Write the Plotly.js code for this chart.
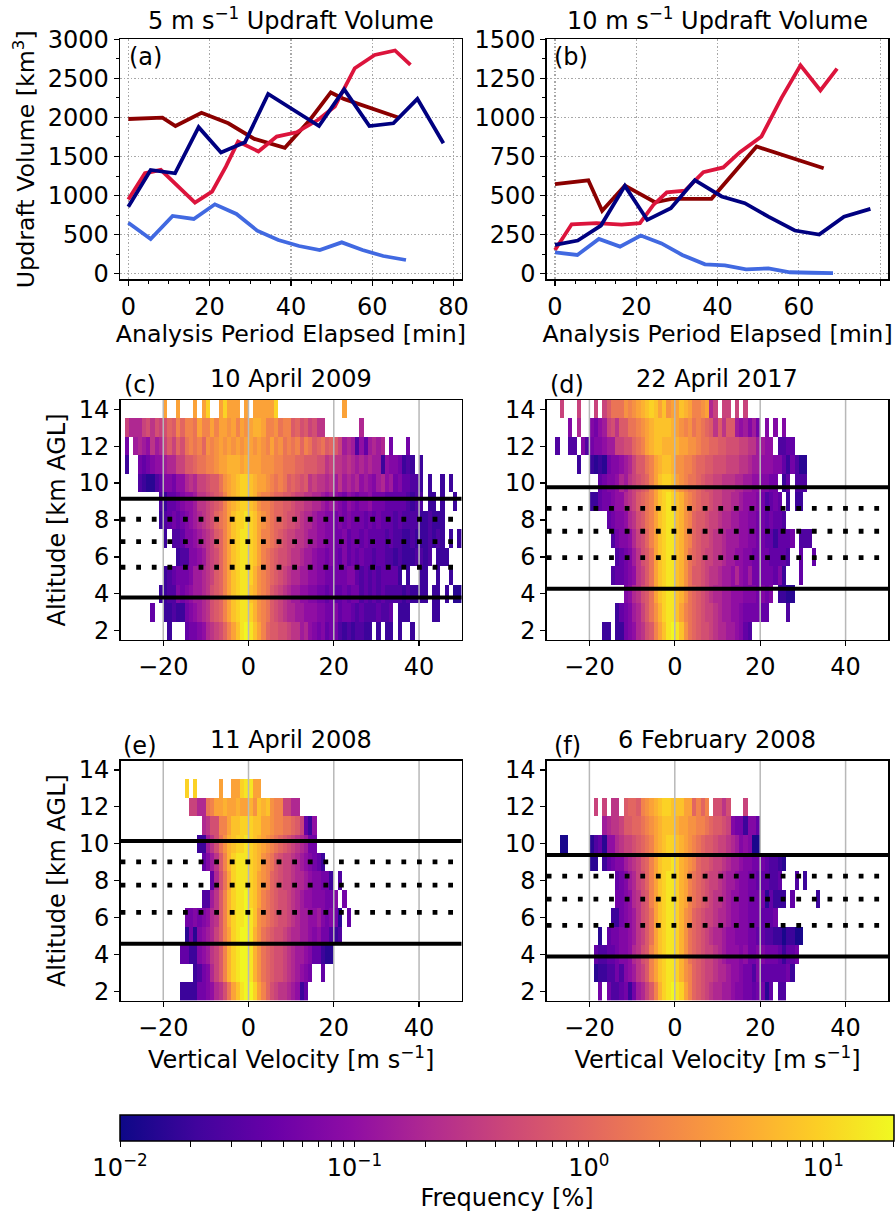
<!DOCTYPE html>
<html><head><meta charset="utf-8">
<script src="https://cdn.plot.ly/plotly-3.0.1.min.js"></script>
<style>html,body{margin:0;padding:0;background:#fff}#g{width:895px;height:1212px}</style></head>
<body><div id="g"></div>
<script>
// ---- Updraft volume time series, 5 m/s threshold (panel a)
const a_maroon_t=[0,8.4,11.6,18,24.6,31,38.5,44.7,49.8,53,66.4];
const a_maroon_v=[1980,1998,1890,2060,1925,1725,1610,1970,2320,2237,2000];
const a_crimson_t=[0,4.1,8,11.6,16.4,20.6,24,27,32,36.5,41.4,46.7,50.8,55.7,60.6,65.6,69.4];
const a_crimson_v=[950,1285,1330,1145,910,1050,1370,1690,1565,1755,1810,1970,2140,2630,2800,2857,2673];
const a_blue_t=[0,5.5,10.9,16.1,21.3,26.6,31.7,36.9,42,47.1,52.5,57.6,62.7,68.3];
const a_blue_v=[653,444,739,700,888,764,551,431,354,303,401,303,226,175];
const a_navy_t=[0,5.5,11.5,17.3,22.8,28.7,34.4,46.9,53.1,59.3,65.2,71.1,77.5];
const a_navy_v=[858,1328,1285,1875,1550,1683,2300,1890,2360,1890,1925,2237,1670];
// ---- Updraft volume time series, 10 m/s threshold (panel b)
const b_maroon_t=[0,8.2,11.6,17.2,24.6,28.7,38.5,49.6,66.1];
const b_maroon_v=[573,598,402,564,457,479,479,814,675];
const b_crimson_t=[0,4.1,10.2,16.4,20.9,24.2,27.5,32,36.5,41.4,45.5,50.8,55.7,60.4,65.3,69.4];
const b_crimson_v=[152,316,323,314,323,440,521,532,650,680,778,878,1124,1333,1173,1312];
const b_blue_t=[0,5.5,10.8,16,21.1,26.2,31.3,36.9,41.8,47,52.5,57.8,63.1,68.4];
const b_blue_v=[137,120,222,173,244,194,120,60,53,28,34,9,6,4];
const b_navy_t=[0,5.6,11.3,17.2,22.7,28.5,34.4,41,46.7,52.5,59,65,71.1,77.6];
const b_navy_v=[184,212,308,562,344,419,598,494,451,365,276,250,365,415];

const freqLevels={a:0.012,b:0.015,c:0.02,d:0.028,e:0.04,f:0.055,g:0.075,h:0.1,i:0.14,j:0.2,k:0.28,l:0.4,m:0.55,n:0.75,o:1,p:1.4,q:2,r:2.8,s:4,t:5.5,u:7.5,v:10,w:14,x:19};
const altitudes=[14,13,12,11,10,9,8,7,6,5,4,3,2];
const freqC=[
".......... s..s...s.s v..svsss.s .sssssv... .......... ..s....... .......... ..........",
".ljjjlmkml monqoqqpsq qsqssrsqsr sttsqqrpqq nomnlmkk.. ......j... .......... ..........",
".f.ijihkij lnlompqpqo rqrsrsrsrs srsrqsqrpq pqoqpnopno nlijidheij ij.f...f.. ..........",
".c..fefghh ijjllnnopp qqrsstttst sssrrrqqpp poonnnmmkl kkjkjijiji ichggfcdc. c.........",
"....dcbbde ggfhhjkjll mnnprstuvv utssrqpqpn onmnklkkjk ikijijhihg ijhifgeedd c.c..c.c..",
".........d ceefghhikk lmnoqstuvv utrqqpoonn mllkkjjihi hgfhgfgghf ffeeeeedcd d.cc.c..c.",
".........c defefghijk lmopqsuvvw vusrqpoonm mlkjjihhgg fgfgfffefe feeededddd ccdccc....",
".......... c.ddegghij klnoqsuvww vusqqponml lkkjiihhgg ffgeffefee eededdccdc ccdcdc.c.c",
".......... ...cddgghi klmoqsuvww vusqponmml kkjiihggfg fegefefeed eeddcdcccd dcd.ccc...",
".......... cdefffgiij klnoqsuvww vtrqponmlk jjiihhggff fffggedede deeeec.c.. cc..c..c..",
".........c cddgfghiij kmnoqsuvww utrqpnmlkj iihhggffef eefeffdede deddddcdcc cc.cc.c.bb",
".......e.. ccdccfghij kmnoqsuvww vtrqpnmlkj jiihhhggff geffededdd edde.ccc.. ...cc.....",
".......... .c...effgh jklmoqsuwx wusqonnmml kkijhgfgef fdcdcddcc. c.cc.c..c. .........."];
const freqD=[
"...l...l.. .l.lnppprq rstuvusurs sutsqqrsjl .ll.l.l... .......... .......... ..........",
".....g.j.. gfhilmknnp pqrstuuuut srqrpqponk nknnihigif .g.g.g.... .......... ..........",
"..d..dd.gd fgghiillmm opqstuuttt tssrrqppoo nnmmmllkki ihh.ddee.. .......... ..........",
".......c.. cbcbfgghij lnnpqstuut rrqqpoonnm mmlllkkjii hhhggecfdb b......... ..........",
".......... ..efgghjik lmnoqsuvvu srqpponmml lkkkjjiihh ggff.ce.dd d......... ..........",
".......... cceffghhjk lnopqsuvwv utrqponnml lkkjjihhhg fdefe.c.cc .......... ..........",
".......... ....efgghj kmnpqsuvww utrqonnmll kjjiihhggf fefeed.... .......... ..........",
".......... .....dfggh jlmoqsuvww utrqonmmlk kjiiihhggf feeceeef.d dd........ ..........",
".......... ......defg ikmnpsuvww utrponmllk kjiihhggff ffeeeed..e ..e....... ..........",
".......... .....deefg hklnpsuvww utrpnnmlkk jiihjhgiff fffegc...e .......... ..........",
".......... ........gh jkmnpsuvww utrponmlkj jiihhhgggf gfg.ccbb.. .......... ..........",
".......... ......cefg ijlnprtvww usqponmllk jiihhgffff ee....d... .......... ..........",
".......... ...cc.ccfg hjkmnqsuwx wurponmmlk jjiihged.. .......... .......... .........."];
const freqE=[
".......... .......... .......... .......... .......... .......... .......... ..........",
".......... .....v.v.. ...s..ssvw wss....... .......... .......... .......... ..........",
".......... ......lljj pqsstsstss truturqqll jj........ .......... .......... ..........",
".......... .........j kmmqqsuuvv vuussrqqpp onlech.... .......... .......... ..........",
".......... ........cc ikmprtuvvw vutsrqponm lkjiff.... .......... .......... ..........",
".......... .........e giknqtvwww vutrqpnmll kjihgfec.. .......... .......... ..........",
".......... .......... .ejmpsvwww vusrqonmll kjjihggffc .d........ .......... ..........",
".......... .........d diknqtvwwx vusqponmml kjihhgggff g.f....... .......... ..........",
".......... .....ffgfg hjknqtvwwx wurqponmml kjiihhigfg fb.e...... .......... ..........",
".......... .....bfbgh ijlnqsvwxx wtrponmmlk jjiihghffd cd........ .......... ..........",
".......... ....eeccgh iklnqtvwxx wtrponmmlk jiihgeecbb .......... .......... ..........",
".......... .......cdf gjlnqtvwxx wtrponmmlk jihgf..e.. .......... .......... ..........",
".......... ....ccccff ghjkmpsuwx xvsqomlkkj ihce...... .......... .......... .........."];
const freqF=[
".......... .......... .......... .......... .......... .......... .......... ..........",
".......... .......... .......... .......... .......... .......... .......... ..........",
".......... .l.l.kk.no onqrstuvvu uussoqoq.m mkm...l... .......... .......... ..........",
".......... ...ijkklnn oopqrstuuu tssrrqqpon nmlgffcgge .......... .......... ..........",
"...aa..... bdebhhjkll mnopqstuvv utsrqponnm llkjighgaa .......... .......... ..........",
".......... bb.cefggij klnoqsuvvw vtsrqonnml lkjiihggff feddcb.... .......... ..........",
".......... ......efgi jlmoqsuvww vtsqponmll kjiihggffe eedde...d. c......... ..........",
".......... ......ffgh jkmnqsuvww vtsqponmlk kjihhggfff fbeccc.e.. ...c...... ..........",
".......... .....ccfgh ikmnpsuvww vtrqonmllk jjihhggfff eeef...... .......... ..........",
".......... ..b.effggh iklnpsuvww vtrponmlkj jihhgggffe eddccaccaa .......... ..........",
".......... .eddeefggh jkmnqsuvww vtrponmllk jihhhghffg gfffeceef. .......... ..........",
".......... .bccddfdgh iklnqsuvww vtrqonmllk jjihhgffdg eeeeeefc.. .......... ..........",
".......... ..f.fddefc fijlnqtvwx wvsqonmlkj jiihggffef fbe.dd.... .......... .........."];
const velocityEdgeStart=-30;

// ---- Altitude markers [km AGL]
const solidC=[9.15,3.8],  dottedC=[8.04,6.83,5.44];
const solidD=[9.78,4.27], dottedD=[8.63,7.39,5.96];
const solidE=[10.15,4.58],dottedE=[9.01,7.75,6.28];
const solidF=[9.39,3.88], dottedF=[8.24,7.0,5.57];

const plasma=[[0,'#0d0887'],[0.1,'#41049d'],[0.2,'#6a00a8'],[0.3,'#8f0da4'],[0.4,'#b12a90'],[0.5,'#cc4778'],[0.6,'#e16462'],[0.7,'#f2844b'],[0.8,'#fca636'],[0.9,'#fcce25'],[1,'#f0f921']];
const FONT='DejaVu Sans';
const FS=24, FST=23.7;
const W=895,H=1212;
const dx=(l,r)=>[l/W,r/W], dy=(t,b)=>[1-b/H,1-t/H];
const traces=[];
const layout={width:W,height:H,paper_bgcolor:'#fff',plot_bgcolor:'#fff',showlegend:false,
  margin:{l:0,r:0,t:0,b:0,autoexpand:false},font:{family:FONT,color:'#000',size:FS},
  coloraxis:{colorscale:plasma,cmin:-2,cmax:Math.log10(20),colorbar:{
    orientation:'h',x:120/W,xanchor:'left',y:1-1115/H,yanchor:'top',lenmode:'pixels',len:774,thickness:26,
    thicknessmode:'pixels',xpad:0,ypad:0,outlinecolor:'#000',outlinewidth:1.5,ticks:'outside',ticklen:6,tickwidth:1,tickcolor:'#000',
    tickvals:[-2,-1.699,-1.523,-1.398,-1.301,-1.222,-1.155,-1.097,-1.046,-1,-0.699,-0.523,-0.398,-0.301,-0.222,-0.155,-0.097,-0.046,0,0.301,0.477,0.602,0.699,0.778,0.845,0.903,0.954,1,1.301],
    ticktext:['10<sup>−2</sup>','','','','','','','','','10<sup>−1</sup>','','','','','','','','','10<sup>0</sup>','','','','','','','','','10<sup>1</sup>',''],
    tickfont:{family:FONT,size:FS,color:'#000'},
    title:{text:'Frequency [%]',side:'bottom',font:{family:FONT,size:FS,color:'#000'}}}},
  annotations:[]};
function ann(text,x,y,size,xa){layout.annotations.push({text,xref:'paper',yref:'paper',x:x/W,y:1-y/H,xanchor:xa||'center',yanchor:'middle',showarrow:false,font:{family:FONT,size,color:'#000'}});}

function lineAxes(n,domx,domy,yrange,ydtick,yminor,ytitle){
  const xk='xaxis'+n,yk='yaxis'+n;
  layout[xk]={domain:dx(...domx),range:[-2.04,82],anchor:'y'+n,tick0:0,dtick:20,ticks:'outside',ticklen:5,tickwidth:1.2,tickcolor:'#000',
    showline:true,mirror:true,linecolor:'#000',linewidth:1.4,zeroline:false,showgrid:true,gridcolor:'#a8a8a8',griddash:'1.5px,2px',gridwidth:1.2,
    tickfont:{family:FONT,size:FS},automargin:true,
    minor:{dtick:5,tick0:0,ticks:'outside',ticklen:3,tickwidth:1,tickcolor:'#000',showgrid:false},
    title:{text:'Analysis Period Elapsed [min]',font:{family:FONT,size:FST},standoff:5}};
  layout[yk]={domain:dy(...domy),range:yrange,anchor:'x'+n,tick0:0,dtick:ydtick,ticks:'outside',ticklen:5,tickwidth:1.2,tickcolor:'#000',
    showline:true,mirror:true,linecolor:'#000',linewidth:1.4,zeroline:false,showgrid:true,gridcolor:'#a8a8a8',griddash:'1.5px,2px',gridwidth:1.2,
    tickfont:{family:FONT,size:FS},automargin:true,
    minor:{dtick:yminor,tick0:0,ticks:'outside',ticklen:3,tickwidth:1,tickcolor:'#000',showgrid:false},
    title:ytitle?{text:ytitle,font:{family:FONT,size:FST},standoff:6}:undefined};
}
function addLine(n,t,v,color){traces.push({type:'scatter',mode:'lines',x:t,y:v,xaxis:'x'+n,yaxis:'y'+n,line:{color,width:3.8,shape:'linear'},hoverinfo:'skip'});}

lineAxes('',[120,461.7],[39.3,279.3],[-72,3000],500,250,'Updraft Volume [km<sup>3</sup>]');
lineAxes('2',[546.7,888.3],[39.3,279.3],[-36,1500],250,125,null);
layout.xaxis.anchor='y';layout.yaxis.anchor='x';
addLine('',a_maroon_t,a_maroon_v,'#8b0000');addLine('',a_crimson_t,a_crimson_v,'#dc143c');addLine('',a_blue_t,a_blue_v,'#4169e1');addLine('',a_navy_t,a_navy_v,'#000080');
addLine('2',b_maroon_t,b_maroon_v,'#8b0000');addLine('2',b_crimson_t,b_crimson_v,'#dc143c');addLine('2',b_blue_t,b_blue_v,'#4169e1');addLine('2',b_navy_t,b_navy_v,'#000080');

const binCentres=[];for(let i=0;i<80;i++)binCentres.push(velocityEdgeStart+i+0.5);
function decodeRow(s){const c=s.replace(/ /g,'').padEnd(80,'.');return binCentres.map((_,i)=>c[i]==='.'?null:Math.log10(freqLevels[c[i]]));}

function heatPanel(n,domx,domy,rows,solid,dotted,showX,showY){
  layout['xaxis'+n]={domain:dx(...domx),range:[-30,50],anchor:'y'+n,tickvals:[-20,0,20,40],ticktext:['−20','0','20','40'],ticks:'outside',ticklen:5,tickwidth:1.2,tickcolor:'#000',
    showline:true,mirror:true,linecolor:'#000',linewidth:1.4,zeroline:false,showgrid:false,tickfont:{family:FONT,size:FS},automargin:true,
    title:showX?{text:'Vertical Velocity [m s<sup>−1</sup>]',font:{family:FONT,size:FS},standoff:6}:undefined};
  layout['yaxis'+n]={domain:dy(...domy),range:[1.5,14.5],anchor:'x'+n,tickvals:[2,4,6,8,10,12,14],ticks:'outside',ticklen:5,tickwidth:1.2,tickcolor:'#000',
    showline:true,mirror:true,linecolor:'#000',linewidth:1.4,zeroline:false,showgrid:false,tickfont:{family:FONT,size:FS},automargin:true,
    title:showY?{text:'Altitude [km AGL]',font:{family:FONT,size:FS},standoff:6}:undefined};
  traces.push({type:'heatmap',x:binCentres,y:altitudes,z:rows.map(decodeRow),coloraxis:'coloraxis',xaxis:'x'+n,yaxis:'y'+n,hoverongaps:false,hoverinfo:'skip'});
  const gx=[],gy=[];[-20,0,20,40].forEach(v=>{gx.push(v,v,null);gy.push(1.5,14.5,null);});
  traces.push({type:'scatter',mode:'lines',x:gx,y:gy,xaxis:'x'+n,yaxis:'y'+n,line:{color:'#b8b8b8',width:1.5},hoverinfo:'skip'});
  solid.forEach(a=>traces.push({type:'scatter',mode:'lines',x:[-30,50],y:[a,a],xaxis:'x'+n,yaxis:'y'+n,line:{color:'#000',width:4},hoverinfo:'skip'}));
  dotted.forEach(a=>traces.push({type:'scatter',mode:'lines',x:[-30,50],y:[a,a],xaxis:'x'+n,yaxis:'y'+n,line:{color:'#000',width:4.8,dash:'4.8px,10.8px'},hoverinfo:'skip'}));
}
heatPanel('3',[120.6,461.7],[400,640],freqC,solidC,dottedC,false,true);
heatPanel('4',[546.7,888.3],[400,640],freqD,solidD,dottedD,false,false);
heatPanel('5',[120.6,461.7],[760.7,1000.5],freqE,solidE,dottedE,true,true);
heatPanel('6',[546.7,888.3],[760.7,1000.5],freqF,solidF,dottedF,true,false);

ann('5 m s<sup>−1</sup> Updraft Volume',291,19,FS);
ann('10 m s<sup>−1</sup> Updraft Volume',717,19,FS);
ann('(a)',145,57,FS);
ann('(b)',571,57,FS);
ann('10 April 2009',291,379,FS);
ann('22 April 2017',717,379,FS);
ann('11 April 2008',291,740,FS);
ann('6 February 2008',717,740,FS);
ann('(c)',140,385,FS);
ann('(d)',567,385,FS);
ann('(e)',140,746,FS);
ann('(f)',567,746,FS);

Plotly.newPlot('g',traces,layout,{displayModeBar:false,staticPlot:true}).then(()=>{
  document.querySelectorAll('#g svg text').forEach(t=>{if(!t.textContent.trim())t.remove();});
});
</script></body></html>
